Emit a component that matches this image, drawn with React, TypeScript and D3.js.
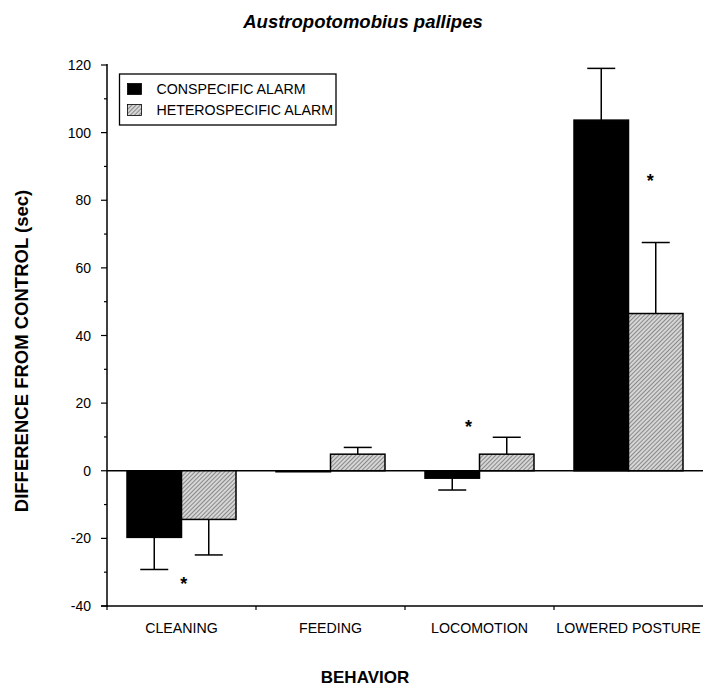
import React, { useRef, useEffect } from 'react';
import * as d3 from 'd3';

// chart values
const categories = ['CLEANING', 'FEEDING', 'LOCOMOTION', 'LOWERED POSTURE'];
const seriesNames = ['CONSPECIFIC ALARM', 'HETEROSPECIFIC ALARM'];
const conspecific = [-19.7, -0.3, -2.2, 103.7];
const conspecificErr = [9.5, 0, 3.5, 15.3];
const heterospecific = [-14.4, 4.9, 4.9, 46.5];
const heterospecificErr = [10.5, 2, 5, 21];
const yTicks = [-40, -20, 0, 20, 40, 60, 80, 100, 120];
const starCategories = ['CLEANING', 'LOCOMOTION', 'LOWERED POSTURE'];
const starValues = [-31.5, 15, 87.5];

const FONT = '"Liberation Sans", Arial, Helvetica, sans-serif';

const App = () => {
  const chart = useRef<SVGSVGElement>(null);

  useEffect(() => {
    const svg = d3.select(chart.current);
    svg.selectAll('*').remove();

    var left = 107,
      right = 703,
      top = 65,
      bottom = 606;

    // scales
    var y = d3.scaleLinear().domain([-40, 120]).range([bottom, top]);
    var x = d3
      .scaleBand()
      .domain(categories)
      .range([left, right])
      .paddingInner(40 / 149)
      .paddingOuter(20 / 149);
    var xs = d3.scaleBand().domain(seriesNames).range([0, x.bandwidth()]);
    const gap = (x.step() - x.bandwidth()) / 2;

    const defs = svg.append('defs');
    const pat = defs
      .append('pattern')
      .attr('id', 'hatch')
      .attr('patternUnits', 'userSpaceOnUse')
      .attr('width', 3)
      .attr('height', 3)
      .attr('patternTransform', 'rotate(45)');
    pat.append('rect').attr('width', 3).attr('height', 3).attr('fill', '#d6d6d6');
    pat
      .append('line')
      .attr('x1', 0)
      .attr('y1', 0)
      .attr('x2', 0)
      .attr('y2', 3)
      .attr('stroke', '#555')
      .attr('stroke-width', 1.2);

    // title
    svg
      .append('text')
      .attr('x', 363)
      .attr('y', 28)
      .attr('text-anchor', 'middle')
      .style('font-family', FONT)
      .style('font-size', '18.5px')
      .style('font-weight', 'bold')
      .style('font-style', 'italic')
      .text('Austropotomobius pallipes');

    // axis titles
    svg
      .append('text')
      .attr('transform', 'translate(28,351) rotate(-90)')
      .attr('text-anchor', 'middle')
      .style('font-family', FONT)
      .style('font-size', '18.5px')
      .style('font-weight', 'bold')
      .text('DIFFERENCE FROM CONTROL (sec)');
    svg
      .append('text')
      .attr('x', 365)
      .attr('y', 683)
      .attr('text-anchor', 'middle')
      .style('font-family', FONT)
      .style('font-size', '17px')
      .style('font-weight', 'bold')
      .text('BEHAVIOR');

    // y axis
    const yAxis = svg.append('g');
    yAxis
      .append('line')
      .attr('x1', left)
      .attr('x2', left)
      .attr('y1', top - 1)
      .attr('y2', bottom + 1)
      .attr('stroke', '#000')
      .attr('stroke-width', 1.5);
    yAxis
      .selectAll('line.minor')
      .data(d3.range(-30, 120, 20))
      .enter()
      .append('line')
      .attr('class', 'minor')
      .attr('x1', left - 3)
      .attr('x2', left)
      .attr('y1', (d) => y(d))
      .attr('y2', (d) => y(d))
      .attr('stroke', '#000')
      .attr('stroke-width', 1.2);
    yAxis
      .selectAll('line.major')
      .data(yTicks)
      .enter()
      .append('line')
      .attr('class', 'major')
      .attr('x1', left - 6)
      .attr('x2', left)
      .attr('y1', (d) => y(d))
      .attr('y2', (d) => y(d))
      .attr('stroke', '#000')
      .attr('stroke-width', 1.2);
    yAxis
      .selectAll('text')
      .data(yTicks)
      .enter()
      .append('text')
      .attr('x', left - 16)
      .attr('y', (d) => y(d))
      .attr('dy', '0.36em')
      .attr('text-anchor', 'end')
      .style('font-family', FONT)
      .style('font-size', '14px')
      .text((d) => d);

    // x axis
    const xAxis = svg.append('g');
    xAxis
      .append('line')
      .attr('x1', left - 6)
      .attr('x2', right)
      .attr('y1', bottom)
      .attr('y2', bottom)
      .attr('stroke', '#000')
      .attr('stroke-width', 1.5);
    xAxis
      .selectAll('line.tick')
      .data(categories)
      .enter()
      .append('line')
      .attr('class', 'tick')
      .attr('x1', (d, i) => (i === 0 ? left : x(d)! - gap))
      .attr('x2', (d, i) => (i === 0 ? left : x(d)! - gap))
      .attr('y1', bottom)
      .attr('y2', bottom + 4)
      .attr('stroke', '#000')
      .attr('stroke-width', 1.2);
    xAxis
      .selectAll('text')
      .data(categories)
      .enter()
      .append('text')
      .attr('x', (d) => x(d)! + x.bandwidth() / 2)
      .attr('y', 633)
      .attr('text-anchor', 'middle')
      .style('font-family', FONT)
      .style('font-size', '14.2px')
      .text((d) => d);

    // zero line
    svg
      .append('line')
      .attr('x1', left)
      .attr('x2', right)
      .attr('y1', y(0))
      .attr('y2', y(0))
      .attr('stroke', '#000')
      .attr('stroke-width', 1.5);

    const series = [
      { name: seriesNames[0], values: conspecific, errs: conspecificErr, fill: '#000' },
      { name: seriesNames[1], values: heterospecific, errs: heterospecificErr, fill: 'url(#hatch)' },
    ];

    series.forEach((s) => {
      const g = svg.append('g');
      const rows = categories.map((c, i) => ({ c, v: s.values[i], e: s.errs[i] }));
      const bx = (d) => x(d.c)! + xs(s.name)!;
      const cx = (d) => bx(d) + xs.bandwidth() / 2;
      const tip = (d) => (d.v >= 0 ? d.v + d.e : d.v - d.e);

      // error bars, drawn away from zero
      const eb = g.selectAll('g.err').data(rows.filter((d) => d.e > 0)).enter().append('g');
      eb.append('line')
        .attr('x1', cx)
        .attr('x2', cx)
        .attr('y1', (d) => y(d.v))
        .attr('y2', (d) => y(tip(d)))
        .attr('stroke', '#000')
        .attr('stroke-width', 1.5);
      eb.append('line')
        .attr('x1', (d) => cx(d) - 14)
        .attr('x2', (d) => cx(d) + 14)
        .attr('y1', (d) => y(tip(d)))
        .attr('y2', (d) => y(tip(d)))
        .attr('stroke', '#000')
        .attr('stroke-width', 1.5);

      g.selectAll('rect')
        .data(rows)
        .enter()
        .append('rect')
        .attr('x', bx)
        .attr('width', xs.bandwidth())
        .attr('y', (d) => y(Math.max(0, d.v)))
        .attr('height', (d) => Math.abs(y(d.v) - y(0)))
        .attr('fill', s.fill)
        .attr('stroke', '#000')
        .attr('stroke-width', 1.5);
    });

    // significance stars, placed across the bar pair
    const starAlong = [0.52, 0.4, 0.7];
    svg
      .append('g')
      .selectAll('text')
      .data(starCategories)
      .enter()
      .append('text')
      .attr('x', (d, i) => x(d)! + starAlong[i] * x.bandwidth())
      .attr('y', (d, i) => y(starValues[i]))
      .attr('dy', '0.7em')
      .attr('text-anchor', 'middle')
      .style('font-family', FONT)
      .style('font-size', '18px')
      .style('font-weight', 'bold')
      .text('*');

    // legend
    const lg = svg.append('g').attr('transform', 'translate(119.5,74)');
    lg.append('rect')
      .attr('width', 216.5)
      .attr('height', 51)
      .attr('fill', '#fff')
      .attr('stroke', '#000')
      .attr('stroke-width', 1.3);
    const items = lg
      .selectAll('g')
      .data(series)
      .enter()
      .append('g')
      .attr('transform', (d, i) => 'translate(8,' + (9.5 + i * 21) + ')');
    items
      .append('rect')
      .attr('width', 14)
      .attr('height', 11)
      .attr('fill', (d) => d.fill)
      .attr('stroke', '#000')
      .attr('stroke-width', 0.8);
    items
      .append('text')
      .attr('x', 29)
      .attr('y', 10.8)
      .style('font-family', FONT)
      .style('font-size', '14.2px')
      .text((d) => d.name);
  }, []);

  return (
    <svg
      ref={chart}
      width={710}
      height={688}
      style={{ position: 'absolute', left: 0, top: 0, background: '#fff' }}
    ></svg>
  );
};

export default App;
